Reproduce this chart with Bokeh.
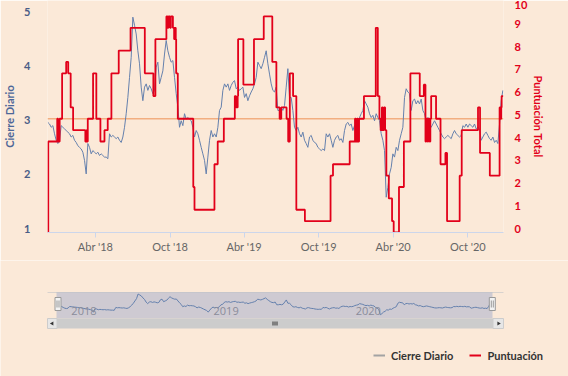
import pandas as pd
from bokeh.plotting import figure
from bokeh.models import (Range1d, LinearAxis, FixedTicker, CustomJSTickFormatter,
                          Span, Legend, LegendItem)
from bokeh.embed import file_html
from bokeh.resources import INLINE
from bokeh.core.properties import value

# ---------------- data ----------------
inicio = pd.Timestamp("2017-12-04 03:00")
fin = pd.Timestamp("2020-12-27 14:00")

# Cierre Diario, sampled every ~4 days from 2017-12-05
cierre = [
    3.03, 3.00, 2.94, 2.97, 2.82, 2.70, 2.64, 2.70, 2.97, 2.94,
    2.91, 2.88, 2.85, 2.82, 2.76, 2.79, 2.70, 2.66, 2.60, 2.57,
    2.54, 2.48, 2.33, 2.08, 2.64, 2.57, 2.45, 2.51, 2.48, 2.45,
    2.48, 2.42, 2.45, 2.42, 2.39, 2.39, 2.36, 2.82, 2.76, 2.79,
    2.76, 2.73, 2.76, 2.70, 2.66, 2.76, 2.94, 3.19, 3.49, 3.86,
    4.23, 4.97, 4.82, 4.66, 4.35, 4.11, 3.68, 3.43, 3.68, 3.74,
    3.62, 3.71, 3.65, 3.56, 3.62, 4.05, 4.14, 3.74,
    3.86, 3.98, 4.29, 4.54, 4.35, 4.23, 4.14, 4.17, 3.86, 3.56,
    3.31, 2.94, 3.06, 2.97, 3.19, 3.09, 3.12, 3.09, 3.06, 2.94,
    2.76, 2.88, 2.82, 2.70, 2.57, 2.45, 2.33, 2.08, 2.39, 2.70,
    2.88, 2.76, 2.82, 2.76, 2.94, 3.25, 3.31, 3.62, 3.74, 3.68,
    3.74, 3.62, 3.71, 3.77, 3.80, 3.65, 3.68, 3.62, 3.65, 3.68,
    3.49, 3.56, 3.43, 3.52, 3.59, 3.65, 3.74, 3.86, 4.14, 4.08,
    4.02, 4.11, 4.23, 4.35, 4.11, 3.92, 3.74, 3.62, 3.59, 3.68,
    3.25, 3.25, 3.31, 3.25, 3.34, 3.68, 4.02, 3.49, 3.49, 3.25,
    2.94, 2.88, 2.94, 2.82, 2.76, 2.85, 2.70, 2.64, 2.57, 2.76,
    2.79, 2.70, 2.66, 2.64, 2.57, 2.54, 2.51, 2.54, 2.51, 2.82,
    2.76, 2.82, 2.70, 2.57, 2.70, 2.76, 2.79, 2.70, 2.73, 2.66,
    2.88, 3.00, 3.03, 2.97, 3.00, 2.88, 2.97, 2.94, 3.00, 3.12,
    3.19, 3.25, 3.43, 3.37, 3.31, 3.19, 3.12, 3.16, 3.06, 3.19,
    3.12, 3.06, 2.82, 2.70, 2.51, 1.65, 1.83, 2.08,
    2.20, 2.45, 2.39, 2.57, 2.51, 2.70, 2.82, 2.94, 3.49, 3.65,
    3.59, 3.56, 3.25, 3.43, 3.46, 3.37, 3.43, 3.37, 3.46, 3.25,
    3.19, 3.06, 3.12, 3.00, 2.94, 3.00, 3.06, 3.00, 2.94, 2.88,
    2.82, 2.76, 2.73, 2.76, 2.79, 2.76, 2.73, 2.82, 2.88, 2.82,
    2.79, 2.76, 2.79, 2.97, 2.94, 3.00, 2.94, 3.00, 2.97, 2.94,
    3.00, 2.91, 2.94, 2.91, 2.70, 2.76, 2.82, 2.85, 2.79, 2.73,
    2.70, 2.76, 2.66, 2.70, 2.64, 3.00, 3.43, 3.62,
]
fechas_cierre = pd.date_range("2017-12-05", periods=len(cierre), freq="5892min")

# Puntuación (step series): days since 2017-12-04 and value
dias_punt = [
    0, 2, 24, 26, 30, 36, 46, 51, 57, 63, 93, 96, 98, 99, 112, 120, 130, 140,
    148, 157, 175, 204, 239, 260, 265, 292, 295, 297, 301, 303, 308, 311, 313,
    315, 316, 320, 358, 361, 410, 418, 433, 460, 463, 467, 468, 481, 507, 531,
    552, 562, 570, 574, 587, 591, 595, 603, 611, 632, 695, 701, 742, 755, 757,
    760, 762, 765, 777, 806, 811, 815, 818, 821, 823, 826, 829, 832, 838, 846,
    850, 863, 875, 891, 914, 924, 928, 930, 933, 935, 938, 940, 942, 954, 965,
    977, 981, 1012, 1017, 1057, 1062, 1086, 1110, 1113, 1114, 1115, 1119,
]
puntuacion = [
    0, 4, 5, 4, 5, 7, 7.5, 7, 5.5, 4.5, 4, 4.5, 4, 5, 7, 5, 4, 4.5,
    5, 7, 8, 9, 7, 6, 8.5, 9.5, 9, 9.5, 9, 9.5, 9, 8.5, 9,
    8.5, 7, 5, 2, 1, 3, 4, 5, 6, 5.5, 6, 8.5, 6.5, 8.5, 9.5,
    7.5, 5.5, 5, 5.5, 5, 4, 7, 6, 1, 0.5, 2.5, 3, 4, 5, 4,
    5, 4, 5, 6, 9, 6, 5, 4.5, 5.5, 4.5, 5.5, 4.5, 2.5, 1.5, 0.5,
    0, 2, 4, 7, 6, 6.5, 4, 5, 4, 5, 4, 5, 6, 5, 3,
    3.5, 0.5, 2.5, 4.5, 5.5, 3.5, 2.5, 5.5, 5, 5.5, 6, 6,
]
fechas_punt = inicio.normalize() + pd.to_timedelta(dias_punt, unit="D")

ticks_x = ["2018-04-01", "2018-10-01", "2019-04-01", "2019-10-01", "2020-04-01", "2020-10-01"]
meses = ["Ene", "Feb", "Mar", "Abr", "May", "Jun", "Jul", "Ago", "Sep", "Oct", "Nov", "Dic"]
ticks_izq = [1, 2, 3, 4, 5]
ticks_der = list(range(0, 11))
linea_ref = 5
anios_nav = ["2018", "2019", "2020"]

# ---------------- style ----------------
BG = "#FBE9D8"
AZUL = "#6580ad"
ROJO = "#e2001a"
IZQ_COL = "#4a5d86"
FONT = "Lato"

rango_izq = (1, 5.277)
rango_der = (0, 10.2)
frame_h = 232
label_shift_px = 4

p = figure(width=568, height=260, x_axis_type="datetime",
           x_range=Range1d(inicio, fin), y_range=Range1d(*rango_izq),
           output_backend="svg", toolbar_location=None, title=None,
           min_border_left=47, min_border_right=65, min_border_top=0, min_border_bottom=28,
           background_fill_color=BG, border_fill_color=BG, outline_line_color=None)
p.extra_y_ranges = {"der": Range1d(*rango_der)}
p.xgrid.visible = False
p.ygrid.visible = False

# x axis
xa = p.xaxis[0]
xa.ticker = FixedTicker(ticks=[pd.Timestamp(t).value / 1e6 for t in ticks_x])
xa.formatter = CustomJSTickFormatter(args=dict(meses=meses), code="""
const d = new Date(tick);
return meses[d.getUTCMonth()] + " '" + String(d.getUTCFullYear()).slice(2);
""")
xa.axis_line_color = "#ccd6eb"
xa.major_tick_line_color = "#ccd6eb"
xa.major_tick_out = 5
xa.major_tick_in = 0
xa.minor_tick_line_color = None
xa.major_label_standoff = 2
xa.major_label_text_font = FONT
xa.major_label_text_font_size = "11px"
xa.major_label_text_color = "#666666"

fmt_int = CustomJSTickFormatter(code="return Math.round(tick).toString();")

# left axis
sh_izq = label_shift_px * (rango_izq[1] - rango_izq[0]) / frame_h
ya = p.yaxis[0]
ya.ticker = FixedTicker(ticks=[t + sh_izq for t in ticks_izq])
ya.formatter = fmt_int
ya.axis_line_color = None
ya.major_tick_line_color = None
ya.minor_tick_line_color = None
ya.major_label_standoff = 11
ya.major_label_text_font = FONT
ya.major_label_text_font_style = "bold"
ya.major_label_text_font_size = "11px"
ya.major_label_text_color = IZQ_COL
ya.axis_label = "Cierre Diario"
ya.axis_label_text_font = FONT
ya.axis_label_text_font_style = "bold"
ya.axis_label_text_font_size = "11px"
ya.axis_label_text_color = "#4d6798"
ya.axis_label_standoff = 5

# right axis
sh_der = label_shift_px * (rango_der[1] - rango_der[0]) / frame_h
yd = LinearAxis(y_range_name="der",
                ticker=FixedTicker(ticks=[t + sh_der for t in ticks_der]),
                formatter=fmt_int)
yd.axis_line_color = None
yd.major_tick_line_color = None
yd.minor_tick_line_color = None
yd.major_label_standoff = 5
yd.major_label_text_font = FONT
yd.major_label_text_font_style = "bold"
yd.major_label_text_font_size = "11px"
yd.major_label_text_color = ROJO
yd.axis_label = "Puntuación Total"
yd.axis_label_text_font = FONT
yd.axis_label_text_font_style = "bold"
yd.axis_label_text_font_size = "11px"
yd.axis_label_text_color = ROJO
yd.axis_label_standoff = 2
p.add_layout(yd, "right")

p.add_layout(Span(location=linea_ref, dimension="width", y_range_name="der",
                  line_color="#F2AE80", line_width=1.5, level="underlay"))

r_cierre = p.line(fechas_cierre, cierre, line_color=AZUL, line_width=1)
r_punt = p.step(fechas_punt, puntuacion, mode="after", y_range_name="der",
                line_color=ROJO, line_width=1.8)

# ---------------- navigator + legend ----------------
H2 = 116
nav_left_px, nav_right_px = 56, 492
mpp = (fin - inicio) / (nav_right_px - nav_left_px)
nav_top, nav_bot = 376 - 292, 376 - 318   # in figure-2 pixel units (from bottom)
nav_vmin, nav_vmax = 1.05, 5.21
upp = (nav_vmax - nav_vmin) / (nav_top - nav_bot)
nav_start = nav_vmin - nav_bot * upp

q = figure(width=568, height=H2, x_axis_type="datetime",
           x_range=Range1d(inicio - mpp * nav_left_px, inicio + mpp * (568 - nav_left_px)),
           y_range=Range1d(0, H2), x_axis_location=None, y_axis_location=None,
           output_backend="svg", toolbar_location=None, title=None,
           min_border_left=0, min_border_right=0, min_border_top=0, min_border_bottom=0,
           background_fill_color=BG, border_fill_color=BG, outline_line_color=None)
q.xgrid.visible = False
q.ygrid.visible = False
q.extra_x_ranges = {"px": Range1d(0, 568)}
q.extra_y_ranges = {"nav": Range1d(nav_start, nav_start + H2 * upp)}

# navigator outline top line
q.segment(x0=[47], y0=[nav_top], x1=[503], y1=[nav_top], x_range_name="px",
          line_color="#d8d2ce", line_width=1)
# selected mask (full range)
q.quad(left=[inicio], right=[fin], bottom=[nav_bot], top=[nav_top],
       fill_color="#6685c2", fill_alpha=0.3, line_color=None)
# navigator series
q.line(fechas_cierre, cierre, y_range_name="nav", line_color=AZUL, line_width=1)
# year labels
q.text(x=[pd.Timestamp(a + "-01-01") for a in anios_nav], y=[66] * len(anios_nav),
       text=anios_nav, x_offset=4, text_baseline="middle", text_align="left",
       text_font=value("Open Sans"), text_font_size="11px", text_color="#8a8c9a")

# scrollbar
sb_top, sb_bot = 376 - 318, 376 - 328
q.quad(left=[56.5], right=[492.5], bottom=[sb_bot], top=[sb_top], x_range_name="px",
       fill_color="#cccccc", line_color=None)
q.quad(left=[47, 492.5], right=[56.5, 503], bottom=[sb_bot] * 2, top=[sb_top] * 2,
       x_range_name="px", fill_color="#e6e6e6", line_color="#cccccc", line_width=1)
q.scatter(x=[51.7, 498.0], y=[(sb_top + sb_bot) / 2] * 2, x_range_name="px",
          marker="triangle", size=4, angle=[1.5708, -1.5708],
          fill_color="#333333", line_color=None)
q.segment(x0=[272.5, 274.5, 276.5], y0=[51] * 3, x1=[272.5, 274.5, 276.5], y1=[55] * 3,
          x_range_name="px", line_color="#333333", line_width=1)

# handles
hy = 376 - 303.5
q.rect(x=[57.5, 491.8], y=[hy, hy], width=6, height=13, x_range_name="px",
       fill_color="#f2f2f2", line_color="#999999", line_width=1)
q.segment(x0=[56.5, 58.5, 490.8, 492.8], y0=[hy - 3.5] * 4,
          x1=[56.5, 58.5, 490.8, 492.8], y1=[hy + 3.5] * 4,
          x_range_name="px", line_color="#999999", line_width=1)

# legend (proxy renderers kept outside the visible area)
lg1 = q.line(x=[inicio, fin], y=[-50, -50], line_color="#a3a3a3", line_width=2)
lg2 = q.line(x=[inicio, fin], y=[-50, -50], line_color=ROJO, line_width=2)
leg = Legend(items=[LegendItem(label="Cierre Diario", renderers=[lg1]),
                    LegendItem(label="Puntuación", renderers=[lg2])],
             orientation="horizontal", location=(373, 14),
             padding=0, margin=0, spacing=16, label_standoff=6,
             glyph_width=12, glyph_height=14, label_height=14,
             border_line_color=None, background_fill_alpha=0,
             label_text_font=FONT, label_text_font_style="bold",
             label_text_font_size="11px", label_text_color="#333333")
q.add_layout(leg)

open("out.html", "w").write(file_html([p, q], INLINE))
